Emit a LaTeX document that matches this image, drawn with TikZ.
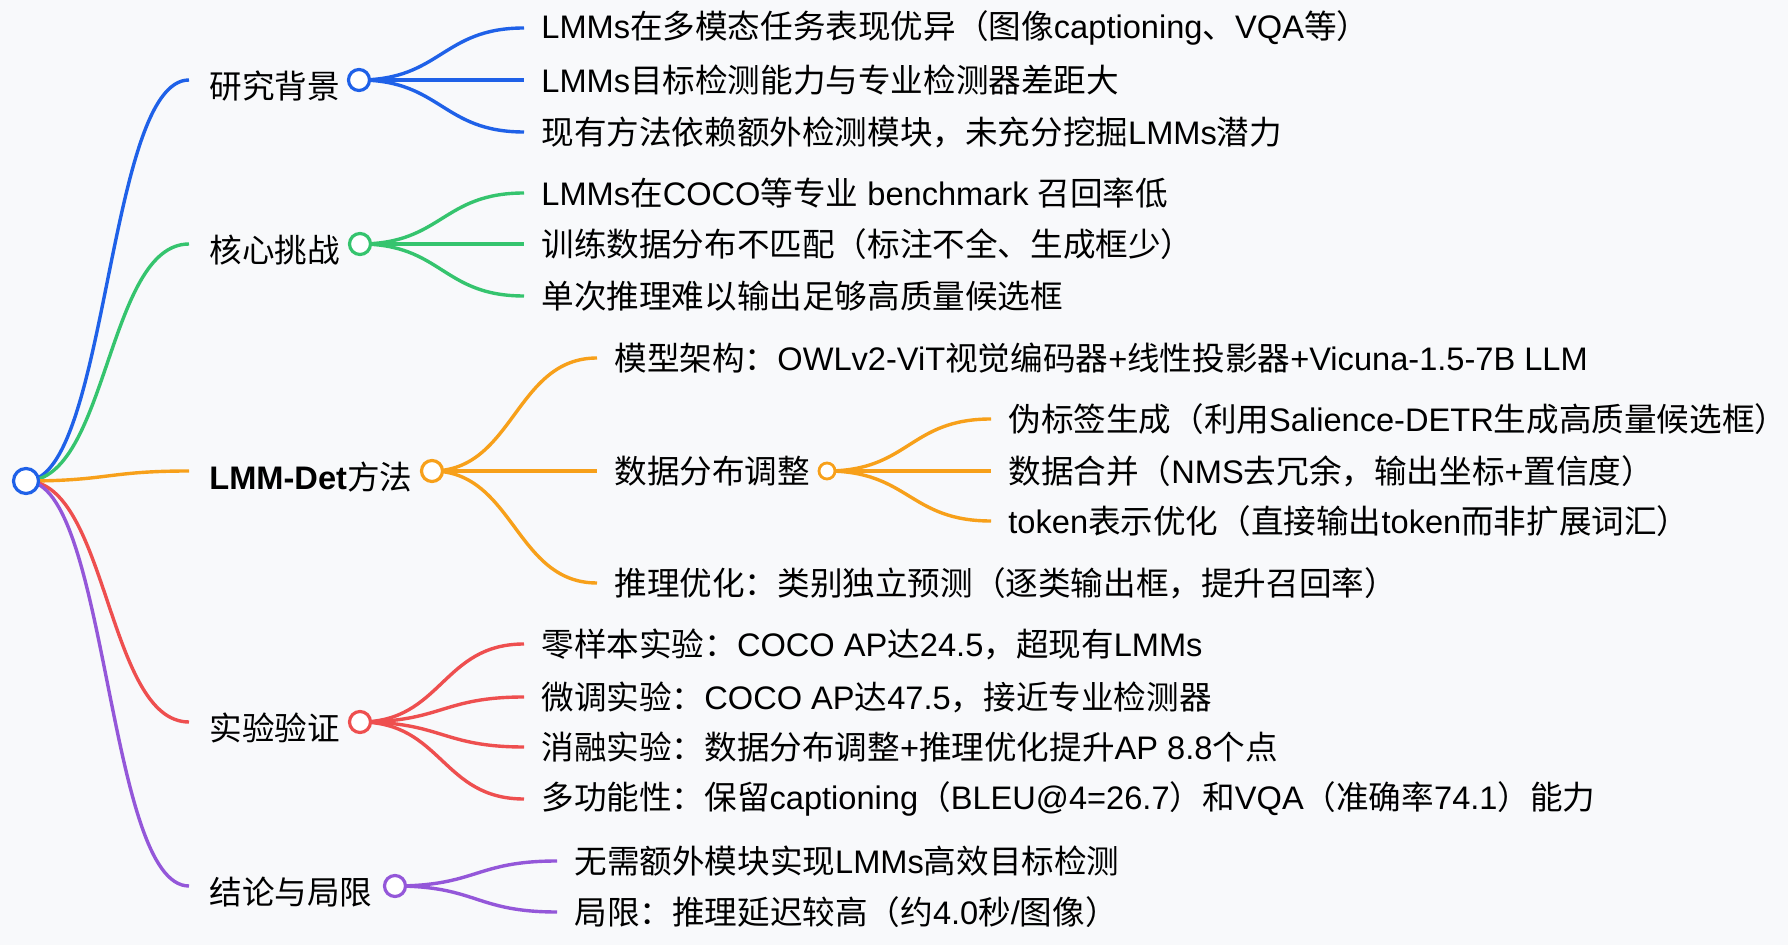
\documentclass[tikz,border=0pt]{standalone}
\usepackage{fontspec}
\setmainfont{Noto Sans CJK SC}
\newfontfamily\latf{Liberation Sans}
\newcommand{\lat}[1]{{\latf #1}}
\usetikzlibrary{backgrounds}
\definecolor{bgcol}{RGB}{248,249,251}
\definecolor{cblue}{RGB}{31,97,232}
\definecolor{cgreen}{RGB}{53,196,110}
\definecolor{corange}{RGB}{247,160,26}
\definecolor{cred}{RGB}{238,79,79}
\definecolor{cpurple}{RGB}{148,87,217}
\tikzstyle{leaf} = [anchor=west, inner xsep=8.5pt, inner ysep=2pt, text=black,
    font=\fontsize{16.3pt}{20pt}\selectfont]
\tikzstyle{topic} = [leaf, inner xsep=10pt, text height=20.3pt, text depth=2pt]
\tikzstyle{dot} = [circle, draw, fill=white, line width=1.6pt, inner sep=0pt, minimum size=10.5pt]
\tikzstyle{link} = [line width=1.7pt]
\newcommand{\branch}[3]{\draw[link, #1] (#2.center) .. controls +(82,0) and +(-82,0) .. (#3.west);}

\begin{document}
\begin{tikzpicture}[x=0.5pt, y=-0.5pt]
    \begin{scope}[on background layer]
        \fill[bgcol] (0,0) rectangle (1788,945);
    \end{scope}
    \useasboundingbox (0,0) rectangle (1788,945);

    % root
    \node[dot, draw=cblue, minimum size=12.5pt] (root) at (26,481) {};

    % main topics
    \node[topic] (back) at (189,80) {研究背景};
    \node[dot, draw=cblue] (backo) at (359,80) {};
    \node[topic] (chal) at (189,244) {核心挑战};
    \node[dot, draw=cgreen] (chalo) at (360,244) {};
    \node[topic] (meth) at (189,471) {\lat{\bfseries LMM-Det}方法};
    \node[dot, draw=corange] (metho) at (432,471) {};
    \node[topic] (expe) at (189,722) {实验验证};
    \node[dot, draw=cred] (expeo) at (360,722) {};
    \node[topic] (conc) at (189,886) {结论与局限};
    \node[dot, draw=cpurple] (conco) at (395,886) {};

    % leaves
    \node[leaf] (back1) at (524,28) {\lat{LMMs}在多模态任务表现优异（图像\lat{captioning}、\lat{VQA}等）};
    \node[leaf] (back2) at (524,80) {\lat{LMMs}目标检测能力与专业检测器差距大};
    \node[leaf] (back3) at (524,132) {现有方法依赖额外检测模块，未充分挖掘\lat{LMMs}潜力};

    \node[leaf] (chal1) at (524,193) {\lat{LMMs}在\lat{COCO}等专业\lat{ benchmark }召回率低};
    \node[leaf] (chal2) at (524,244) {训练数据分布不匹配（标注不全、生成框少）};
    \node[leaf] (chal3) at (524,296) {单次推理难以输出足够高质量候选框};

    \node[leaf] (meth1) at (597,358) {模型架构：\lat{OWLv2-ViT}视觉编码器\lat{+}线性投影器\lat{+Vicuna-1.5-7B LLM}};
    \node[leaf] (meth2) at (597,471) {数据分布调整};
    \node[dot, draw=corange, line width=1.4pt, minimum size=8pt] (meth2o) at (827,471) {};
    \node[leaf] (meth3) at (597,583) {推理优化：类别独立预测（逐类输出框，提升召回率）};

    \node[leaf] (data1) at (991,419) {伪标签生成（利用\lat{Salience-DETR}生成高质量候选框）};
    \node[leaf] (data2) at (991,471) {数据合并（\lat{NMS}去冗余，输出坐标\lat{+}置信度）};
    \node[leaf] (data3) at (991,521) {\lat{token}表示优化（直接输出\lat{token}而非扩展词汇）};

    \node[leaf] (expe1) at (524,644) {零样本实验：\lat{COCO AP}达\lat{24.5}，超现有\lat{LMMs}};
    \node[leaf] (expe2) at (524,697) {微调实验：\lat{COCO AP}达\lat{47.5}，接近专业检测器};
    \node[leaf] (expe3) at (524,747) {消融实验：数据分布调整\lat{+}推理优化提升\lat{AP 8.8}个点};
    \node[leaf] (expe4) at (524,799) {多功能性：保留\lat{captioning}（\lat{BLEU@4=26.7}）和\lat{VQA}（准确率\lat{74.1}）能力};

    \node[leaf] (conc1) at (557,861) {无需额外模块实现\lat{LMMs}高效目标检测};
    \node[leaf] (conc2) at (557,912) {局限：推理延迟较高（约\lat{4.0}秒\lat{/}图像）};

    % connectors
    \begin{scope}[on background layer]
        \branch{cblue}{root}{back}
        \branch{cgreen}{root}{chal}
        \branch{corange}{root}{meth}
        \branch{cred}{root}{expe}
        \branch{cpurple}{root}{conc}
        \foreach \i in {1,2,3} {
            \branch{cblue}{backo}{back\i}
            \branch{cgreen}{chalo}{chal\i}
            \branch{corange}{metho}{meth\i}
            \branch{corange}{meth2o}{data\i}
        }
        \foreach \i in {1,...,4} {\branch{cred}{expeo}{expe\i}}
        \foreach \i in {1,2} {\branch{cpurple}{conco}{conc\i}}
    \end{scope}
\end{tikzpicture}
\end{document}
